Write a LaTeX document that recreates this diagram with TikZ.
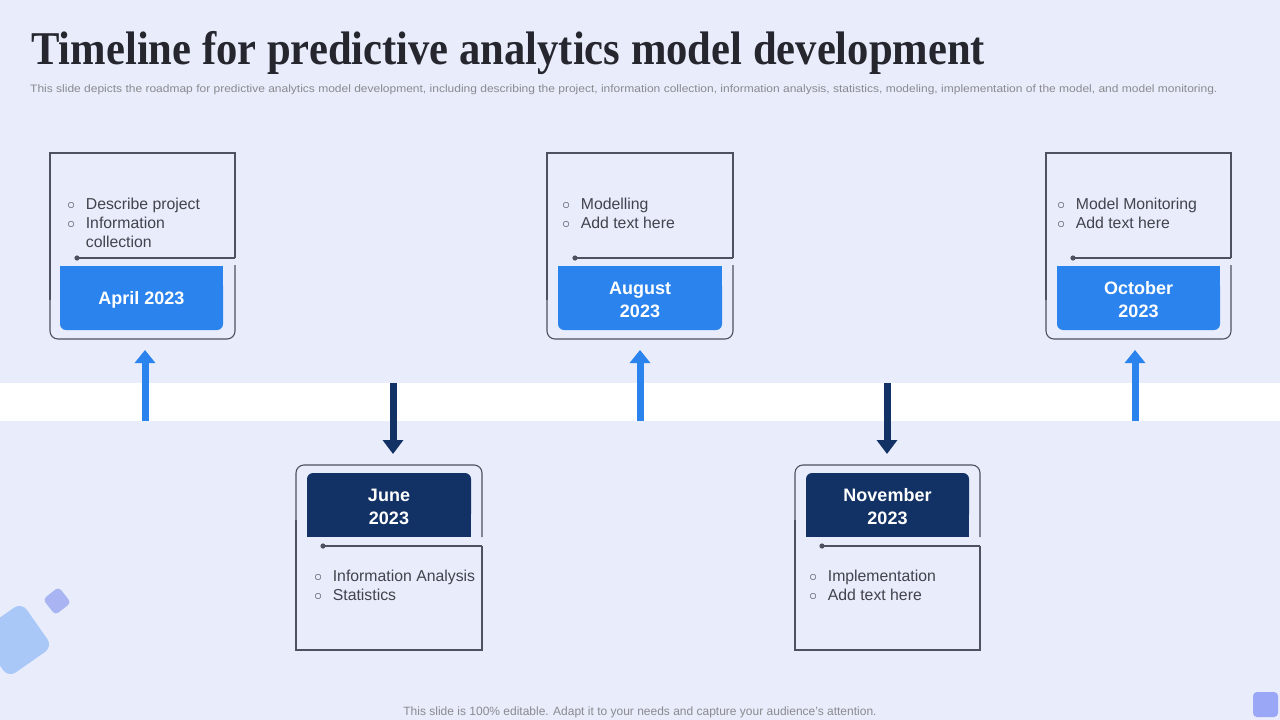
\documentclass[tikz,border=0pt]{standalone}
\usepackage{fontspec}
\setmainfont{Liberation Sans}
\newfontfamily\titlefont{Liberation Serif}
\usetikzlibrary{arrows.meta,positioning}
\definecolor{slidebg}{HTML}{E8ECFB}
\definecolor{darktext}{HTML}{26262E}
\definecolor{bodytext}{HTML}{42434C}
\definecolor{softgray}{HTML}{8A8A8F}
\definecolor{framegray}{HTML}{4E515E}
\definecolor{skyblue}{HTML}{2B83EE}
\definecolor{navy}{HTML}{123266}
\definecolor{tileblue}{HTML}{A9C8F8}
\definecolor{tilelilac}{HTML}{A9B4F2}
\definecolor{tileviolet}{HTML}{9AA6F6}
\newcommand{\bulletmark}{{\fontsize{13.5}{13.5}\selectfont ○}}
\tikzset{
  frame/.style={draw=framegray, line width=1.1pt},
  pin/.style={draw=framegray, line width=1.1pt},
  datelabel/.style={text=white, font=\fontsize{18}{23}\selectfont\bfseries, align=center, inner sep=0pt},
  bullets/.style={text=bodytext, font=\fontsize{15.8}{19}\selectfont, inner sep=0pt, anchor=north west},
  uparrow/.style={skyblue, line width=7pt, -{Triangle[width=20pt,length=13pt]}},
  downarrow/.style={navy, line width=7pt, -{Triangle[width=20pt,length=14pt]}}
}

\begin{document}
\begin{tikzpicture}[x=1pt,y=-1pt]
\useasboundingbox (0,0) rectangle (1280,720);
\fill[slidebg] (0,0) rectangle (1280,720);
\fill[white] (0,383) rectangle (1280,421);

% heading
\node[anchor=base west, inner sep=0pt, text=darktext, font=\titlefont\fontsize{47}{50}\selectfont\bfseries] (title) at (31,64) {\scalebox{0.907}[1]{Timeline for predictive analytics model development}};
\node[anchor=base west, inner sep=0pt, text=softgray, font=\fontsize{12}{14}\selectfont] (subtitle) at (30,92) {\scalebox{1}[0.9]{This slide depicts the roadmap for predictive analytics model development, including describing the project, information collection, information analysis, statistics, modeling, implementation of the model, and model monitoring.}};

% April
\draw[frame] (235,258) -- (235,153) -- (50,153) -- (50,300);
\draw[frame, rounded corners=8pt] (50,300) -- (50,339) -- (235,339) -- (235,265);
\coordinate (aprdot) at (77,258);
\coordinate (aprend) at (235,258);
\fill[framegray] (aprdot) circle (2.6);
\draw[pin] (aprdot) -- (aprend);
\node[bullets] (aprtext) at (67,196) {\begin{tabular}{@{}l@{\hspace{10.5pt}}l@{}}\bulletmark & Describe project\\ \bulletmark & Information\\ & collection\end{tabular}};
\fill[skyblue] (60,266) rectangle (223,300);
\fill[skyblue, rounded corners=6pt] (60,280) rectangle (223,330);
\node[datelabel] (apr) at (141.5,300) {April 2023};

% August
\draw[frame] (733,258) -- (733,153) -- (547,153) -- (547,300);
\draw[frame, rounded corners=8pt] (547,300) -- (547,339) -- (733,339) -- (733,265);
\coordinate (augdot) at (575,258);
\coordinate (augend) at (733,258);
\fill[framegray] (augdot) circle (2.6);
\draw[pin] (augdot) -- (augend);
\node[bullets] (augtext) at (562,196) {\begin{tabular}{@{}l@{\hspace{10.5pt}}l@{}}\bulletmark & Modelling\\ \bulletmark & Add text here\end{tabular}};
\fill[skyblue] (558,266) rectangle (722,300);
\fill[skyblue, rounded corners=6pt] (558,280) rectangle (722,330);
\node[datelabel] (aug) at (640,299.5) {August\\2023};

% October
\draw[frame] (1231,258) -- (1231,153) -- (1046,153) -- (1046,300);
\draw[frame, rounded corners=8pt] (1046,300) -- (1046,339) -- (1231,339) -- (1231,265);
\coordinate (octdot) at (1073,258);
\coordinate (octend) at (1231,258);
\fill[framegray] (octdot) circle (2.6);
\draw[pin] (octdot) -- (octend);
\node[bullets] (octtext) at (1057,196) {\begin{tabular}{@{}l@{\hspace{10.5pt}}l@{}}\bulletmark & Model Monitoring\\ \bulletmark & Add text here\end{tabular}};
\fill[skyblue] (1057,266) rectangle (1220,300);
\fill[skyblue, rounded corners=6pt] (1057,280) rectangle (1220,330);
\node[datelabel] (oct) at (1138.5,299.5) {October\\2023};

% June
\draw[frame, rounded corners=8pt] (482,537) -- (482,465) -- (296,465) -- (296,520);
\draw[frame] (296,520) -- (296,650) -- (482,650) -- (482,546);
\coordinate (jundot) at (323,546);
\coordinate (junend) at (482,546);
\fill[framegray] (jundot) circle (2.6);
\draw[pin] (jundot) -- (junend);
\node[bullets] (juntext) at (314,568) {\begin{tabular}{@{}l@{\hspace{10.5pt}}l@{}}\bulletmark & Information Analysis\\ \bulletmark & Statistics\end{tabular}};
\fill[navy, rounded corners=6pt] (307,473) rectangle (471,520);
\fill[navy] (307,500) rectangle (471,537);
\node[datelabel] (jun) at (389,507) {June\\2023};

% November
\draw[frame, rounded corners=8pt] (980,537) -- (980,465) -- (795,465) -- (795,520);
\draw[frame] (795,520) -- (795,650) -- (980,650) -- (980,546);
\coordinate (novdot) at (822,546);
\coordinate (novend) at (980,546);
\fill[framegray] (novdot) circle (2.6);
\draw[pin] (novdot) -- (novend);
\node[bullets] (novtext) at (809,568) {\begin{tabular}{@{}l@{\hspace{10.5pt}}l@{}}\bulletmark & Implementation\\ \bulletmark & Add text here\end{tabular}};
\fill[navy, rounded corners=6pt] (806,473) rectangle (969,520);
\fill[navy] (806,500) rectangle (969,537);
\node[datelabel] (nov) at (887.5,507) {November\\2023};

% arrows on the band
\coordinate (aprfoot) at (145,421);
\coordinate (aprhead) at (145,350);
\coordinate (augfoot) at (640,421);
\coordinate (aughead) at (640,350);
\coordinate (octfoot) at (1135,421);
\coordinate (octhead) at (1135,350);
\coordinate (junfoot) at (393,383);
\coordinate (junhead) at (393,454);
\coordinate (novfoot) at (887,383);
\coordinate (novhead) at (887,454);
\draw[uparrow] (aprfoot) -- (aprhead);
\draw[uparrow] (augfoot) -- (aughead);
\draw[uparrow] (octfoot) -- (octhead);
\draw[downarrow] (junfoot) -- (junhead);
\draw[downarrow] (novfoot) -- (novhead);

% corner tiles
\fill[tileblue, rounded corners=9pt, rotate around={35:(15,640)}] (-12,613) rectangle (42,667);
\fill[tilelilac, rounded corners=4pt, rotate around={38:(57,601)}] (47,591) rectangle (67,611);
\fill[tileviolet, rounded corners=4pt] (1253,692) rectangle (1278,717);

% footer
\node[anchor=base, inner sep=0pt, text=softgray, font=\fontsize{12}{14}\selectfont] (footer) at (640,715) {This slide is 100\% editable. Adapt it to your needs and capture your audience's attention.};
\end{tikzpicture}
\end{document}
